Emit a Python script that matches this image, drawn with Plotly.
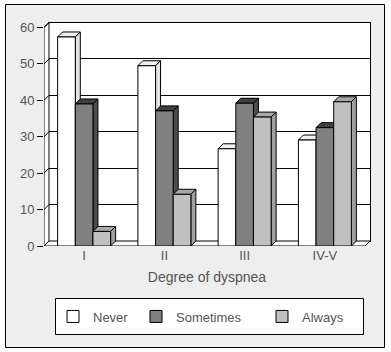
import plotly.graph_objects as go

# ---------------- data ----------------
categories = ["I", "II", "III", "IV-V"]
series_names = ["Never", "Sometimes", "Always"]
never = [57.4, 49.5, 26.7, 29.1]
sometimes = [39.0, 37.1, 39.2, 32.5]
always = [4.0, 14.2, 35.4, 39.6]
y_ticks = [0, 10, 20, 30, 40, 50, 60]
x_title = "Degree of dyspnea"

# ---------------- styles ----------------
front_colors = ["#ffffff", "#808080", "#c0c0c0"]
top_colors = ["#f0f0f0", "#404040", "#a8a8a8"]
side_colors = ["#e4e4e4", "#4c4c4c", "#a0a0a0"]
text_color = "#555555"
FONT = "Liberation Sans, Arial, sans-serif"

W, H = 391, 352
X0, X1 = 44, 365      # front frame left / right (px)
Y0, YT = 246, 27.5    # pixel of value 0 and of value 60
DX, DY = 5, 5         # 3-D depth offsets (px)
YMAX = y_ticks[-1]
ncat = len(categories)
ppx = (X1 - X0) / ncat
ppy = (Y0 - YT) / YMAX
dxu = DX / ppx
dyu = DY / ppy
BW = 0.22
legend_x_px = [53, 136, 262]   # left edge of each legend entry (px)
legend_y_px = 316.5


def px(x):
    return x / W


def py(y):
    return 1 - y / H


series = [never, sometimes, always]
xl0, xr0 = -0.5, ncat - 0.5
xr_range = [xl0, xr0 + dxu]
yr_range = [0, YMAX + dyu]

fig = go.Figure()

common = dict(mode="lines", xaxis="x2", yaxis="y2", showlegend=False,
              hoverinfo="skip", line=dict(color="black", width=1))

# left wall
fig.add_trace(go.Scatter(
    x=[xl0, xl0 + dxu, xl0 + dxu, xl0, xl0],
    y=[0, dyu, YMAX + dyu, YMAX, 0],
    fill="toself", fillcolor="white", **common))
# floor
fig.add_trace(go.Scatter(
    x=[xl0, xr0, xr0 + dxu, xl0 + dxu, xl0],
    y=[0, 0, dyu, dyu, 0],
    fill="toself", fillcolor="white", **common))
# left-wall grid diagonals
dx_, dy_ = [], []
for v in y_ticks:
    dx_ += [xl0, xl0 + dxu, None]
    dy_ += [v, v + dyu, None]
fig.add_trace(go.Scatter(x=dx_, y=dy_, **common))

# top and side faces of the bars
for j, vals in enumerate(series):
    tx, ty, sx, sy = [], [], [], []
    for i, v in enumerate(vals):
        xl = i + (j - 1.5) * BW
        xr = xl + BW
        tx += [xl, xl + dxu, xr + dxu, xr, xl, None]
        ty += [v, v + dyu, v + dyu, v, v, None]
        sx += [xr, xr + dxu, xr + dxu, xr, xr, None]
        sy += [0, dyu, v + dyu, v, 0, None]
    fig.add_trace(go.Scatter(x=tx, y=ty, fill="toself",
                             fillcolor=top_colors[j], **common))
    fig.add_trace(go.Scatter(x=sx, y=sy, fill="toself",
                             fillcolor=side_colors[j], **common))

# front faces (bars)
legend_ids = ["legend", "legend2", "legend3"]
for j, vals in enumerate(series):
    fig.add_trace(go.Bar(
        x=list(range(ncat)), y=vals, name=series_names[j],
        width=BW, offset=(j - 1.5) * BW,
        marker=dict(color=front_colors[j], line=dict(color="black", width=1)),
        xaxis="x3", yaxis="y3", hoverinfo="skip", legend=legend_ids[j]))

shapes = [
    # outer frame
    dict(type="rect", xref="paper", yref="paper",
         x0=px(5.5), x1=px(384.5), y0=py(347.5), y1=py(4.5),
         fillcolor="#eeeeee", line=dict(color="black", width=1), layer="below"),
    # back wall
    dict(type="rect", xref="x", yref="y", x0=0, x1=1, y0=0, y1=YMAX,
         fillcolor="white", line=dict(width=0), layer="below"),
    # legend box
    dict(type="rect", xref="paper", yref="paper",
         x0=px(55.5), x1=px(363.5), y0=py(334.5), y1=py(298.5),
         fillcolor="white", line=dict(color="black", width=1), layer="below"),
]

legend_common = dict(orientation="h", xanchor="left", yanchor="middle",
                     bgcolor="rgba(0,0,0,0)", borderwidth=0,
                     font=dict(size=13, color=text_color))

fig.update_layout(
    template="none",
    width=W, height=H,
    margin=dict(l=0, r=0, t=0, b=0),
    paper_bgcolor="white",
    plot_bgcolor="rgba(0,0,0,0)",
    font=dict(family=FONT, size=13, color=text_color),
    barmode="overlay",
    shapes=shapes,
    showlegend=True,
    legend=dict(x=px(legend_x_px[0]), y=py(legend_y_px), **legend_common),
    legend2=dict(x=px(legend_x_px[1]), y=py(legend_y_px), **legend_common),
    legend3=dict(x=px(legend_x_px[2]), y=py(legend_y_px), **legend_common),
    xaxis=dict(domain=[px(X0 + DX), px(X1 + DX)], range=[0, 1], anchor="y",
               showline=True, mirror=True, linecolor="black", linewidth=1,
               showgrid=False, zeroline=False, showticklabels=False, ticks=""),
    yaxis=dict(domain=[py(Y0 - DY), py(YT - DY)], range=[0, YMAX], anchor="x",
               tickvals=y_ticks, showgrid=True, gridcolor="black", gridwidth=1,
               showline=True, mirror=True, linecolor="black", linewidth=1,
               zeroline=False, showticklabels=False, ticks=""),
    xaxis2=dict(domain=[px(X0), px(X1 + DX)], range=xr_range, anchor="y2",
                tickvals=list(range(ncat)), ticktext=categories, ticks="",
                showline=False, showgrid=False, zeroline=False,
                tickfont=dict(size=13, color=text_color),
                title=dict(text=x_title, standoff=10,
                           font=dict(size=14, color=text_color))),
    yaxis2=dict(domain=[py(Y0), py(YT - DY)], range=yr_range, anchor="x2",
                tickvals=y_ticks, ticks="outside", ticklen=6, tickcolor="black",
                tickwidth=1, showline=False, showgrid=False, zeroline=False,
                tickfont=dict(size=13, color=text_color)),
    xaxis3=dict(overlaying="x2", range=xr_range, anchor="y3", visible=False),
    yaxis3=dict(overlaying="y2", range=yr_range, anchor="x3", visible=False),
)

fig.write_html("out.html", config={"displayModeBar": False},
               post_script="document.body.style.margin='0px';")
